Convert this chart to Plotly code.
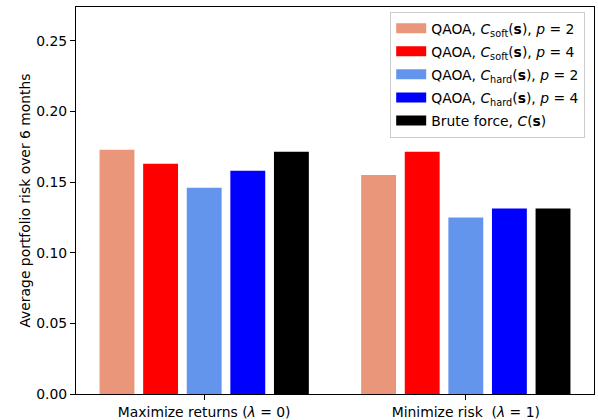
import plotly.graph_objects as go

groups = ["Maximize returns (<i>λ</i> = 0)", "Minimize risk \u00a0(<i>λ</i> = 1)"]
series_names = [
    "QAOA, <i>C</i><sub>soft</sub>(<b>s</b>), <i>p</i> = 2",
    "QAOA, <i>C</i><sub>soft</sub>(<b>s</b>), <i>p</i> = 4",
    "QAOA, <i>C</i><sub>hard</sub>(<b>s</b>), <i>p</i> = 2",
    "QAOA, <i>C</i><sub>hard</sub>(<b>s</b>), <i>p</i> = 4",
    "Brute force, <i>C</i>(<b>s</b>)",
]
qaoa_soft_p2 = [0.173, 0.155]
qaoa_soft_p4 = [0.163, 0.1715]
qaoa_hard_p2 = [0.146, 0.125]
qaoa_hard_p4 = [0.158, 0.1313]
brute_force = [0.1715, 0.1313]
values = [qaoa_soft_p2, qaoa_soft_p4, qaoa_hard_p2, qaoa_hard_p4, brute_force]
colors = ["#E9967A", "#FF0000", "#6495ED", "#0000FF", "#000000"]
yticks = [0.00, 0.05, 0.10, 0.15, 0.20, 0.25]

step = 1 / 6
width = 0.8 * step
fig = go.Figure()
for i, (name, vals, col) in enumerate(zip(series_names, values, colors)):
    xs = [g + (i - 2) * step for g in range(len(groups))]
    fig.add_trace(go.Bar(x=xs, y=vals, name=name, width=width, showlegend=False,
                         marker=dict(color=col, line=dict(width=0))))
# legend entries drawn as wide rectangles (matplotlib-style patches)
for i, (name, col) in enumerate(zip(series_names, colors)):
    fig.add_trace(go.Scatter(x=[None], y=[None], mode="lines", name=name,
                             legendgroup=f"g{i}",
                             line=dict(color=col, width=11)))

fsize = 13.9
font = dict(family="DejaVu Sans", size=fsize, color="black")
fig.update_layout(
    width=598, height=420,
    margin=dict(l=75.5, r=4, t=7, b=26, autoexpand=False),
    plot_bgcolor="white", paper_bgcolor="white",
    font=font, barmode="overlay", showlegend=True,
    legend=dict(x=0.983, y=0.988, xanchor="right", yanchor="top",
                bgcolor="rgba(255,255,255,0.8)", bordercolor="#cccccc", borderwidth=1,
                font=dict(family="DejaVu Sans", size=fsize, color="black"),
                tracegroupgap=2, itemwidth=30),
    xaxis=dict(range=[-0.49, 1.49], tickvals=[0, 1], ticktext=groups, automargin=False,
               showgrid=False, zeroline=False, showline=True, linecolor="black", linewidth=1,
               mirror=True, ticks="outside", ticklen=5, tickcolor="black"),
    yaxis=dict(range=[0, 0.274], tickvals=yticks, tickformat=".2f", automargin=False,
               showgrid=False, zeroline=False, showline=True, linecolor="black", linewidth=1,
               mirror=True, ticks="outside", ticklen=5, tickcolor="black",
               title=dict(text="Average portfolio risk over 6 months", standoff=2,
                          font=dict(family="DejaVu Sans", size=fsize, color="black"))),
)
fig.write_html("out.html", config={"displayModeBar": False},
               post_script="document.body.style.margin='0';document.body.style.overflow='hidden';")
